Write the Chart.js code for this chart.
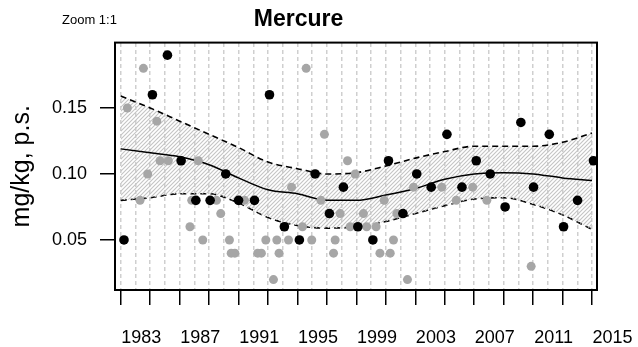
<!DOCTYPE html>
<html>
<head>
<meta charset="utf-8">
<script src="https://cdn.jsdelivr.net/npm/chart.js@4/dist/chart.umd.min.js"></script>
<style>
  html, body { margin: 0; padding: 0; background: #fff; }
  #wrap { width: 638px; height: 347px; }
</style>
</head>
<body>
<div id="wrap"><canvas id="chart"></canvas></div>
<script>
// Points noirs (échantillon principal) : [année, valeur]
const blackPts = [
  [1982.22, 0.05], [1984.15, 0.16], [1985.17, 0.19], [1986.10, 0.11],
  [1987.10, 0.08], [1988.07, 0.08], [1989.13, 0.10], [1990.00, 0.08],
  [1991.08, 0.08], [1992.10, 0.16], [1993.11, 0.06], [1994.13, 0.05],
  [1995.20, 0.10], [1996.17, 0.07], [1997.12, 0.09], [1998.10, 0.06],
  [1999.12, 0.05], [2000.18, 0.11], [2001.16, 0.07], [2002.10, 0.10],
  [2003.08, 0.09], [2004.15, 0.13], [2005.17, 0.09], [2006.14, 0.11],
  [2007.09, 0.10], [2008.10, 0.075], [2009.17, 0.139], [2010.03, 0.09],
  [2011.10, 0.13], [2012.07, 0.06], [2013.02, 0.08], [2014.10, 0.11],
];

// Points gris (autres mesures)
const grayPts = [
  [1982.45, 0.15], [1983.31, 0.08], [1983.54, 0.18], [1983.83, 0.10],
  [1984.45, 0.14], [1984.67, 0.11], [1985.23, 0.11], [1986.70, 0.06],
  [1986.82, 0.08], [1987.27, 0.11], [1987.57, 0.05], [1988.50, 0.08],
  [1988.79, 0.07], [1989.38, 0.05], [1989.50, 0.04], [1989.75, 0.04],
  [1990.40, 0.08], [1991.30, 0.04], [1991.55, 0.04], [1991.85, 0.05],
  [1992.37, 0.02], [1992.60, 0.05], [1992.75, 0.04], [1993.39, 0.05],
  [1993.60, 0.09], [1994.34, 0.06], [1994.59, 0.18], [1994.97, 0.05],
  [1995.59, 0.08], [1995.83, 0.13], [1996.45, 0.04], [1996.56, 0.05],
  [1996.90, 0.07], [1997.40, 0.11], [1997.58, 0.06], [1997.92, 0.10],
  [1998.48, 0.07], [1998.70, 0.06], [1999.34, 0.06], [1999.60, 0.04],
  [1999.89, 0.08], [2000.30, 0.04], [2000.52, 0.05], [2000.75, 0.07],
  [2001.47, 0.02], [2001.88, 0.09], [2003.80, 0.09], [2004.78, 0.08],
  [2005.90, 0.09], [2006.86, 0.08], [2009.87, 0.03],
];

// Courbe lissée et intervalle de confiance
const trendYears = [1982, 1984, 1986, 1988, 1990, 1992, 1994, 1996, 1998,
  2000, 2002, 2004, 2006, 2008, 2010, 2012, 2014];
const trendMid = [0.119, 0.116, 0.113, 0.107, 0.097, 0.088, 0.085, 0.080, 0.080,
  0.084, 0.089, 0.096, 0.100, 0.101, 0.100, 0.097, 0.095];
const trendUpper = [0.159, 0.150, 0.140, 0.130, 0.120, 0.109, 0.104, 0.100, 0.101,
  0.106, 0.112, 0.117, 0.121, 0.121, 0.121, 0.124, 0.131];
const trendLower = [0.080, 0.082, 0.085, 0.085, 0.078, 0.067, 0.061, 0.059, 0.060,
  0.064, 0.070, 0.076, 0.081, 0.082, 0.077, 0.069, 0.058];

// Axes
const yTicks = [0.05, 0.10, 0.15];
const xTickYears = [1982, 1984, 1986, 1988, 1990, 1992, 1994, 1996, 1998,
  2000, 2002, 2004, 2006, 2008, 2010, 2012, 2014];
const xLabelYears = [1983, 1987, 1991, 1995, 1999, 2003, 2007, 2011, 2015];
const gridYears = [];
for (let y = 1982; y <= 2014; y++) gridYears.push(y);

const FONT = "'Liberation Sans', Arial, Helvetica, sans-serif";

// Motif hachuré pour la bande
function hatch() {
  const c = document.createElement("canvas");
  c.width = 4; c.height = 4;
  const g = c.getContext("2d");
  g.strokeStyle = "#c4c4c4";
  g.lineWidth = 1.1;
  g.beginPath();
  g.moveTo(-1, 5); g.lineTo(5, -1);
  g.moveTo(-1, 1); g.lineTo(1, -1);
  g.moveTo(3, 5); g.lineTo(5, 3);
  g.stroke();
  return g.createPattern(c, "repeat");
}

const toXY = (arr) => arr.map(([x, y]) => ({ x, y }));
const curve = (vals) => trendYears.map((x, i) => ({ x, y: vals[i] }));

const decor = {
  id: "decor",
  afterDatasetsDraw(chart) {
    const { ctx, chartArea: a, scales } = chart;
    ctx.save();
    ctx.strokeStyle = "#000";
    ctx.lineWidth = 2;
    ctx.strokeRect(a.left, a.top, a.right - a.left, a.bottom - a.top);
    ctx.fillStyle = "#000";
    ctx.font = "18px " + FONT;
    ctx.textAlign = "center";
    ctx.textBaseline = "middle";
    xLabelYears.forEach((yr) => {
      ctx.fillText(String(yr), scales.x.getPixelForValue(yr + 0.4), 338);
    });
    ctx.font = "13px " + FONT;
    ctx.textAlign = "left";
    ctx.fillText("Zoom 1:1", 62, 20);
    ctx.restore();
  },
};

new Chart(document.getElementById("chart"), {
  type: "scatter",
  data: {
    datasets: [
      { data: toXY(blackPts), backgroundColor: "#000", pointRadius: 4.8, borderWidth: 0 },
      { data: toXY(grayPts), backgroundColor: "#a6a6a6", pointRadius: 4.5, borderWidth: 0 },
      { data: curve(trendMid), showLine: true, borderColor: "#000", borderWidth: 1.5,
        pointRadius: 0, cubicInterpolationMode: "monotone" },
      { data: curve(trendUpper), showLine: true, borderColor: "#000", borderWidth: 1.6,
        borderDash: [6, 4], pointRadius: 0, cubicInterpolationMode: "monotone",
        fill: "+1", backgroundColor: hatch() },
      { data: curve(trendLower), showLine: true, borderColor: "#000", borderWidth: 1.6,
        borderDash: [6, 4], pointRadius: 0, cubicInterpolationMode: "monotone" },
    ],
  },
  options: {
    responsive: true,
    maintainAspectRatio: false,
    animation: false,
    layout: { padding: { left: 0, right: 41, top: 0, bottom: 0 } },
    plugins: {
      legend: { display: false },
      tooltip: { enabled: false },
      title: {
        display: true,
        text: "Mercure",
        color: "#000",
        font: { family: FONT, size: 23, weight: "bold" },
        padding: { top: 6, bottom: 9 },
      },
    },
    scales: {
      x: {
        type: "linear",
        min: 1981.61,
        max: 2014.34,
        afterBuildTicks: (s) => { s.ticks = xTickYears.map((v) => ({ value: v })); },
        ticks: { display: false },
        grid: { drawOnChartArea: false, color: "#000", lineWidth: 1.5, tickLength: 15 },
        border: { display: false },
        afterFit: (s) => { s.height = 57; },
      },
      xg: {
        type: "linear",
        position: "top",
        min: 1981.61,
        max: 2014.34,
        afterBuildTicks: (s) => { s.ticks = gridYears.map((v) => ({ value: v })); },
        ticks: { display: false },
        grid: { color: "#cfcfcf", lineWidth: 1.5, drawTicks: false },
        border: { display: false, dash: [4, 3] },
        afterFit: (s) => { s.height = 0; },
      },
      y: {
        min: 0.0121,
        max: 0.1995,
        afterBuildTicks: (s) => { s.ticks = yTicks.map((v) => ({ value: v })); },
        ticks: {
          callback: (v) => v.toFixed(2),
          color: "#000",
          font: { family: FONT, size: 18 },
          padding: 13,
        },
        grid: { drawOnChartArea: false, color: "#000", lineWidth: 1.5, tickLength: 15 },
        border: { display: false },
        title: {
          display: true,
          text: "mg/kg, p.s.",
          color: "#000",
          font: { family: FONT, size: 25 },
          padding: { top: 7, bottom: 0 },
        },
        afterFit: (s) => { s.width = 115; },
      },
    },
  },
  plugins: [decor],
});
</script>
</body>
</html>
